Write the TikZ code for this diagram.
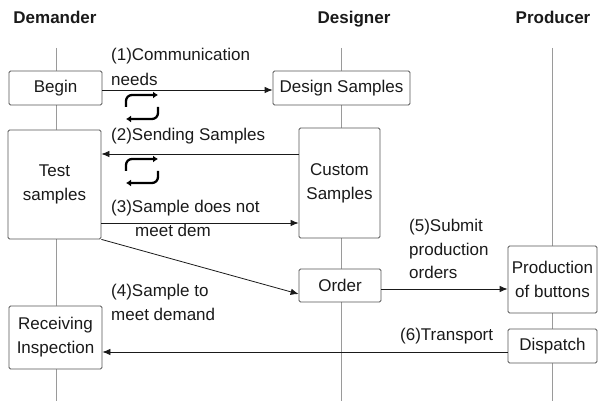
\documentclass[tikz,border=0pt]{standalone}
\usepackage{fontspec}
\setmainfont{Liberation Sans}
\usetikzlibrary{arrows.meta,calc}
\definecolor{txt}{HTML}{1A1A1A}
\definecolor{boxc}{HTML}{555555}
\definecolor{lifec}{HTML}{9A9A9A}
\definecolor{arrc}{HTML}{1A1A1A}
\tikzset{
  loopicon/.pic={
    \draw[line width=2.3pt, rounded corners=6pt, -{Latex[length=5pt,width=7pt]}]
      (0,14) -- (0,2) -- (32,2);
    \draw[line width=2.3pt, rounded corners=6pt, -{Latex[length=5pt,width=7pt]}]
      (32,14) -- (32,26) -- (0,26);
  }
}
\begin{document}
\begin{tikzpicture}[x=1pt,y=-1pt,
  every node/.style={font=\fontsize{17}{24}\selectfont, text=txt},
  box/.style={draw=boxc, line width=0.8pt, rounded corners=1.5pt, fill=white,
              align=center, inner sep=0pt},
  life/.style={draw=lifec, line width=0.8pt},
  arr/.style={draw=arrc, line width=0.8pt, -{Latex[length=8pt,width=6.5pt]}},
  lbl/.style={anchor=base west, inner sep=0pt},
  head/.style={font=\fontsize{17}{20}\selectfont\bfseries, anchor=base, inner sep=0pt},
]
\useasboundingbox (0,0) rectangle (598,401);

% column headers
\node[head] (hDem) at (55,24) {Demander};
\node[head] (hDes) at (354,24) {Designer};
\node[head] (hPro) at (553,24) {Producer};

% lifelines
\coordinate (demTop) at (56,48);  \coordinate (demBot) at (56,401);
\coordinate (desTop) at (341,48); \coordinate (desBot) at (341,401);
\coordinate (proTop) at (552,48); \coordinate (proBot) at (552,401);
\draw[life] (demTop) -- (demBot);
\draw[life] (desTop) -- (desBot);
\draw[life] (proTop) -- (proBot);

% activity boxes
\node[box, minimum width=93pt, minimum height=34pt]  (begin) at (55.5,88)   {Begin};
\node[box, minimum width=137pt, minimum height=34pt] (ds)    at (341.5,88)  {Design Samples};
\node[box, minimum width=93pt, minimum height=109pt] (ts)    at (54.5,184.5){Test\\samples};
\node[box, minimum width=81pt, minimum height=110pt] (cs)    at (339.5,183) {Custom\\Samples};
\node[box, minimum width=82pt, minimum height=33pt]  (ord)   at (340,285.5) {Order};
\node[box, minimum width=89pt, minimum height=67pt]  (pb)    at (552.5,279.5){Production\\of buttons};
\node[box, minimum width=89pt, minimum height=34pt]  (dsp)   at (552.5,346) {Dispatch};
\node[box, minimum width=93pt, minimum height=63pt]  (ri)    at (55.5,337.5){Receiving\\Inspection};

% messages
\draw[arr] (begin.east |- 0,90) -- (ds.west |- 0,90);
\draw[arr] (cs.west |- 0,154) -- (ts.east |- 0,154);
\draw[arr] (ts.east |- 0,223) -- (cs.west |- 0,223);
\draw[arr] (ts.south east) -- (ord.west |- 0,294);
\draw[arr] (ord.east |- 0,289) -- (pb.west |- 0,289);
\draw[arr] (dsp.west |- 0,352) -- (ri.east |- 0,352);

% message labels
\node[lbl] (l1a) at (111,61)  {(1)Communication};
\node[lbl] (l1b) at (111,86)  {needs};
\node[lbl] (l2)  at (111,141) {(2)Sending Samples};
\node[lbl] (l3a) at (111,213) {(3)Sample does not};
\node[lbl] (l3b) at (135,237) {meet dem};
\node[lbl] (l4a) at (111,297) {(4)Sample to};
\node[lbl] (l4b) at (111,320) {meet demand};
\node[lbl] (l5a) at (409,232) {(5)Submit};
\node[lbl] (l5b) at (409,256) {production};
\node[lbl] (l5c) at (409,279) {orders};
\node[lbl] (l6)  at (400,341) {(6)Transport};

% iteration marks
\pic at (126,93)  {loopicon};
\pic at (126,157) {loopicon};
\end{tikzpicture}
\end{document}
